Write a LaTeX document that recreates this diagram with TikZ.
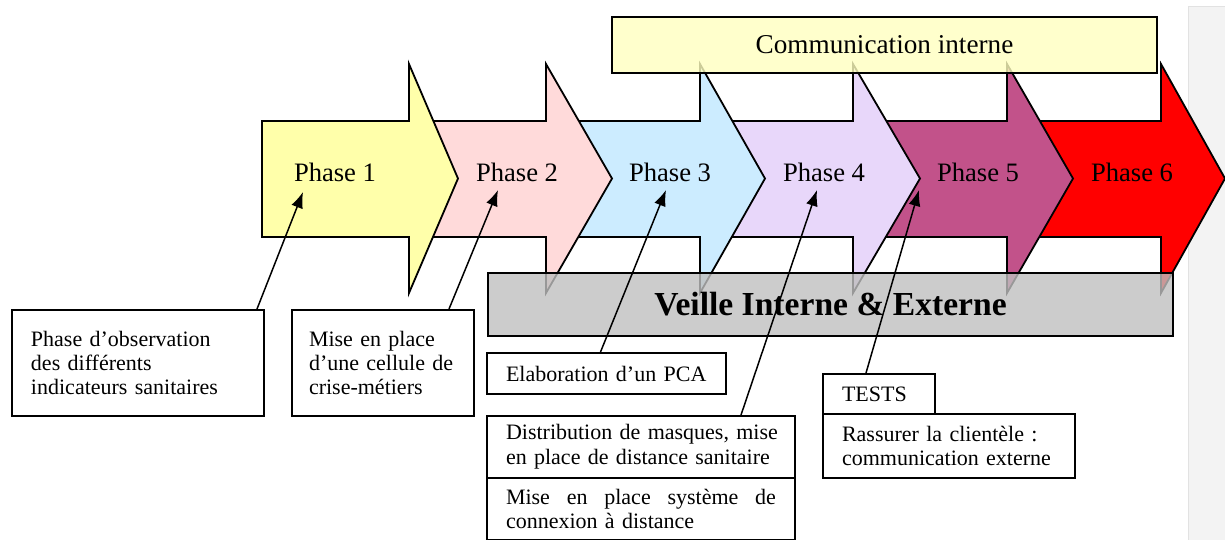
\documentclass[tikz,border=0pt]{standalone}
\usepackage{fontspec}
\setmainfont{Liberation Serif}
\usepackage{tikz}
\usetikzlibrary{arrows.meta}

\definecolor{phaseone}{RGB}{255,255,170}
\definecolor{phasetwo}{RGB}{255,218,218}
\definecolor{phasethree}{RGB}{204,236,255}
\definecolor{phasefour}{RGB}{232,215,250}
\definecolor{phasefive}{RGB}{194,82,138}
\definecolor{phasesix}{RGB}{255,0,0}
\definecolor{commfill}{RGB}{255,255,191}
\definecolor{veillefill}{RGB}{191,191,191}
\definecolor{sideband}{RGB}{243,243,243}
\definecolor{sideline}{RGB}{226,226,226}

\tikzset{
  phasearrow/.style={line width=0.9pt, draw=black},
  phaselabel/.style={font=\fontsize{13.3}{16}\selectfont},
  infobox/.style={draw, line width=1pt, fill=white, anchor=north west, align=left,
    inner xsep=9.5pt, inner ysep=0pt, font=\fontsize{11}{12}\selectfont},
  conn/.style={-{Latex[length=8pt,width=6pt]}, line width=0.75pt},
}

\begin{document}
\begin{tikzpicture}[x=0.5pt,y=-0.5pt]
    \useasboundingbox (0,0) rectangle (1225,540);
    % Side band
    \draw[fill=sideband, draw=sideline, line width=0.5pt] (1188,7) rectangle (1230,545);
    % Phase arrows (last first)
    \foreach \lb/\hs/\tp/\col in {1007/1161/1225/phasesix, 853/1007/1073/phasefive, 700/853/920/phasefour, 546/700/765/phasethree, 409/546/612/phasetwo, 262/409/458/phaseone}
        \draw[phasearrow, fill=\col] (\lb,121) -- (\hs,121) -- (\hs,64) -- (\tp,178.5) -- (\hs,293) -- (\hs,237) -- (\lb,237) -- cycle;
    % Labels
    \foreach \i/\x in {1/335,2/517,3/670,4/824,5/978,6/1132}
        \node[phaselabel] (ph\i) at (\x,172) {Phase \i};
    % Communication
    \node[draw, line width=1pt, fill=commfill, fill opacity=0.8, text opacity=1, minimum width=272.5pt, minimum height=28pt, font=\fontsize{13.6}{16}\selectfont] (comm) at (884.5,45) {Communication interne};
    % Veille
    \node[draw, line width=1pt, fill=veillefill, fill opacity=0.8, text opacity=1, minimum width=342.5pt, minimum height=31.5pt, font=\fontsize{16.8}{20}\selectfont\bfseries] (veille) at (830.5,304.5) {Veille Interne \& Externe};
    % Boxes
    \node[infobox, minimum width=126pt, minimum height=53pt, text width=107pt] (obs) at (11,309) {Phase d'observation\\des différents\\indicateurs sanitaires};
    \node[infobox, inner xsep=8.5pt, minimum width=91pt, minimum height=53pt, text width=74pt] (cell) at (291,309) {Mise en place\\d'une cellule de\\crise-métiers};
    \node[infobox, minimum width=119.5pt, minimum height=20.5pt, text width=100.5pt] (pca) at (486,352) {Elaboration d'un PCA};
    \node[infobox, minimum width=154pt, minimum height=31pt, text width=135pt, font=\fontsize{11}{12.5}\selectfont] (dist) at (486,415) {\mbox{Distribution de masques, mise}\\\mbox{en place de distance sanitaire}};
    \node[infobox, minimum width=154pt, minimum height=31pt, text width=135pt] (conx) at (486,477) {Mise\hfill en\hfill place\hfill système\hfill de\\connexion à distance};
    \node[infobox, minimum width=56pt, minimum height=20pt, text width=37pt] (tests) at (822,373) {TESTS};
    \node[infobox, minimum width=126pt, minimum height=32pt, text width=107pt] (rass) at (822,413) {Rassurer la clientèle :\\communication externe};
    % Connectors
    \coordinate (t1) at (303,192);
    \coordinate (t2) at (498,190);
    \coordinate (t3) at (666,190);
    \coordinate (t4) at (817,190);
    \coordinate (t5) at (919,190);
    \draw[conn] ([xshift=-4pt]obs.north east) -- (t1);
    \draw[conn] ([xshift=-13pt]cell.north east) -- (t2);
    \draw[conn] ([xshift=-3pt]pca.north) -- (t3);
    \draw[conn] ([xshift=-27.5pt]dist.north east) -- (t4);
    \draw[conn] ([xshift=-6.5pt]tests.north) -- (t5);
\end{tikzpicture}
\end{document}
